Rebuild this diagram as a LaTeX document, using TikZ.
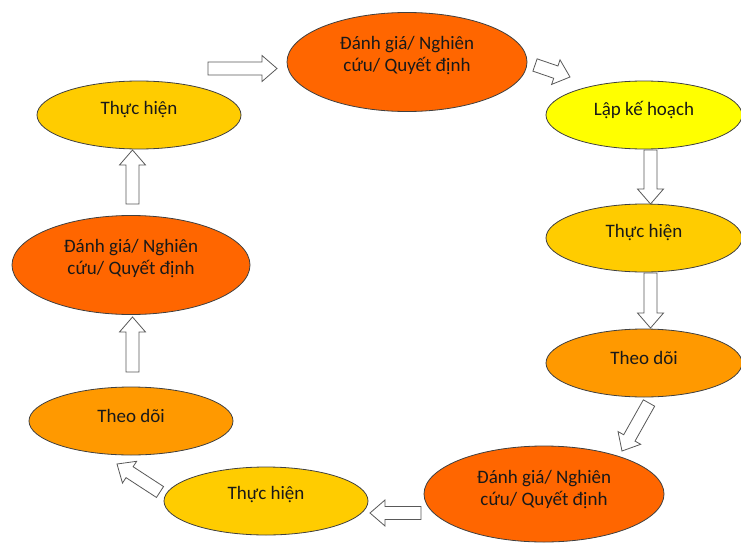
\documentclass[tikz,border=0pt]{standalone}
\usepackage{fontspec}
\setmainfont{Carlito}
\usetikzlibrary{shapes.geometric,calc}
\definecolor{cdg}{HTML}{FF6600}
\definecolor{clkh}{HTML}{FFFF00}
\definecolor{cth}{HTML}{FFCC00}
\definecolor{ctd}{HTML}{FF9900}
\newcommand\barrow[2]{%
  \coordinate (bh) at ($(#2)!15pt!(#1)$);
  \draw[blockarr] ($(#1)!6.5pt!90:(#2)$) -- ($(bh)!6.5pt!90:(#2)$) -- ($(bh)!13pt!90:(#2)$) -- (#2)
    -- ($(bh)!13pt!-90:(#2)$) -- ($(bh)!6.5pt!-90:(#2)$) -- ($(#1)!6.5pt!-90:(#2)$) -- cycle;}
\begin{document}
\begin{tikzpicture}[x=1pt,y=-1pt,
  ell/.style={ellipse, draw=black!75, line width=0.8pt, inner sep=0pt},
  small/.style={minimum width=204pt, minimum height=68pt},
  big/.style={minimum width=240pt, minimum height=99pt},
  lbl/.style={font=\fontsize{19}{22}\selectfont, align=center, text=black!90, inner sep=0pt},
  blockarr/.style={fill=white, draw=black!65, line width=0.8pt, line join=miter}]
\useasboundingbox[fill=white] (0,0) rectangle (741,543);

% ellipses
\node[ell, big, fill=cdg] (etop) at (407,62) {};
\node[lbl] (etopt) at ($(etop)+(0,-6)$) {Đánh giá/ Nghiên\\cứu/ Quyết định};
\node[ell, small, minimum width=196pt, fill=clkh] (lkh) at (644,115) {};
\node[lbl] (lkht) at ($(lkh)+(0,-5)$) {Lập kế hoạch};
\node[ell, small, minimum width=196pt, fill=cth] (thr) at (644,238) {};
\node[lbl] (thrt) at ($(thr)+(0,-5)$) {Thực hiện};
\node[ell, small, minimum width=196pt, fill=ctd] (tdr) at (644,363) {};
\node[lbl] (tdrt) at ($(tdr)+(0,-5)$) {Theo dõi};
\node[ell, big, minimum height=96pt, fill=cdg] (ebr) at (544,494) {};
\node[lbl] (ebrt) at ($(ebr)+(0,-4)$) {Đánh giá/ Nghiên\\cứu/ Quyết định};
\node[ell, small, fill=cth] (thb) at (266,501) {};
\node[lbl] (thbt) at ($(thb)+(0,-6)$) {Thực hiện};
\node[ell, small, fill=ctd] (tdl) at (131,421) {};
\node[lbl] (tdlt) at ($(tdl)+(0,-5)$) {Theo dõi};
\node[ell, big, minimum width=238pt, fill=cdg] (el) at (131,265) {};
\node[lbl] (elt) at ($(el)+(0,-6)$) {Đánh giá/ Nghiên\\cứu/ Quyết định};
\node[ell, small, fill=cth] (thtl) at (139,115) {};
\node[lbl] (thtlt) at ($(thtl)+(0,-5)$) {Thực hiện};

% arrow end points
\coordinate (a1t) at (208,68.5);  \coordinate (a1h) at (277,68.5);
\coordinate (a2t) at (535,65);    \coordinate (a2h) at (570,77);
\coordinate (a3t) at (650.5,150); \coordinate (a3h) at (650.5,204);
\coordinate (a4t) at (650.5,273); \coordinate (a4h) at (650.5,328);
\coordinate (a5t) at (649,403);   \coordinate (a5h) at (622,451);
\coordinate (a6t) at (421,513);   \coordinate (a6h) at (370,513);
\coordinate (a7t) at (160,492);   \coordinate (a7h) at (117,464);
\coordinate (a8t) at (132.5,372); \coordinate (a8h) at (132.5,317);
\coordinate (a9t) at (132.5,204); \coordinate (a9h) at (132.5,150);

\barrow{a1t}{a1h}
\barrow{a2t}{a2h}
\barrow{a3t}{a3h}
\barrow{a4t}{a4h}
\barrow{a5t}{a5h}
\barrow{a6t}{a6h}
\barrow{a7t}{a7h}
\barrow{a8t}{a8h}
\barrow{a9t}{a9h}
\end{tikzpicture}
\end{document}
